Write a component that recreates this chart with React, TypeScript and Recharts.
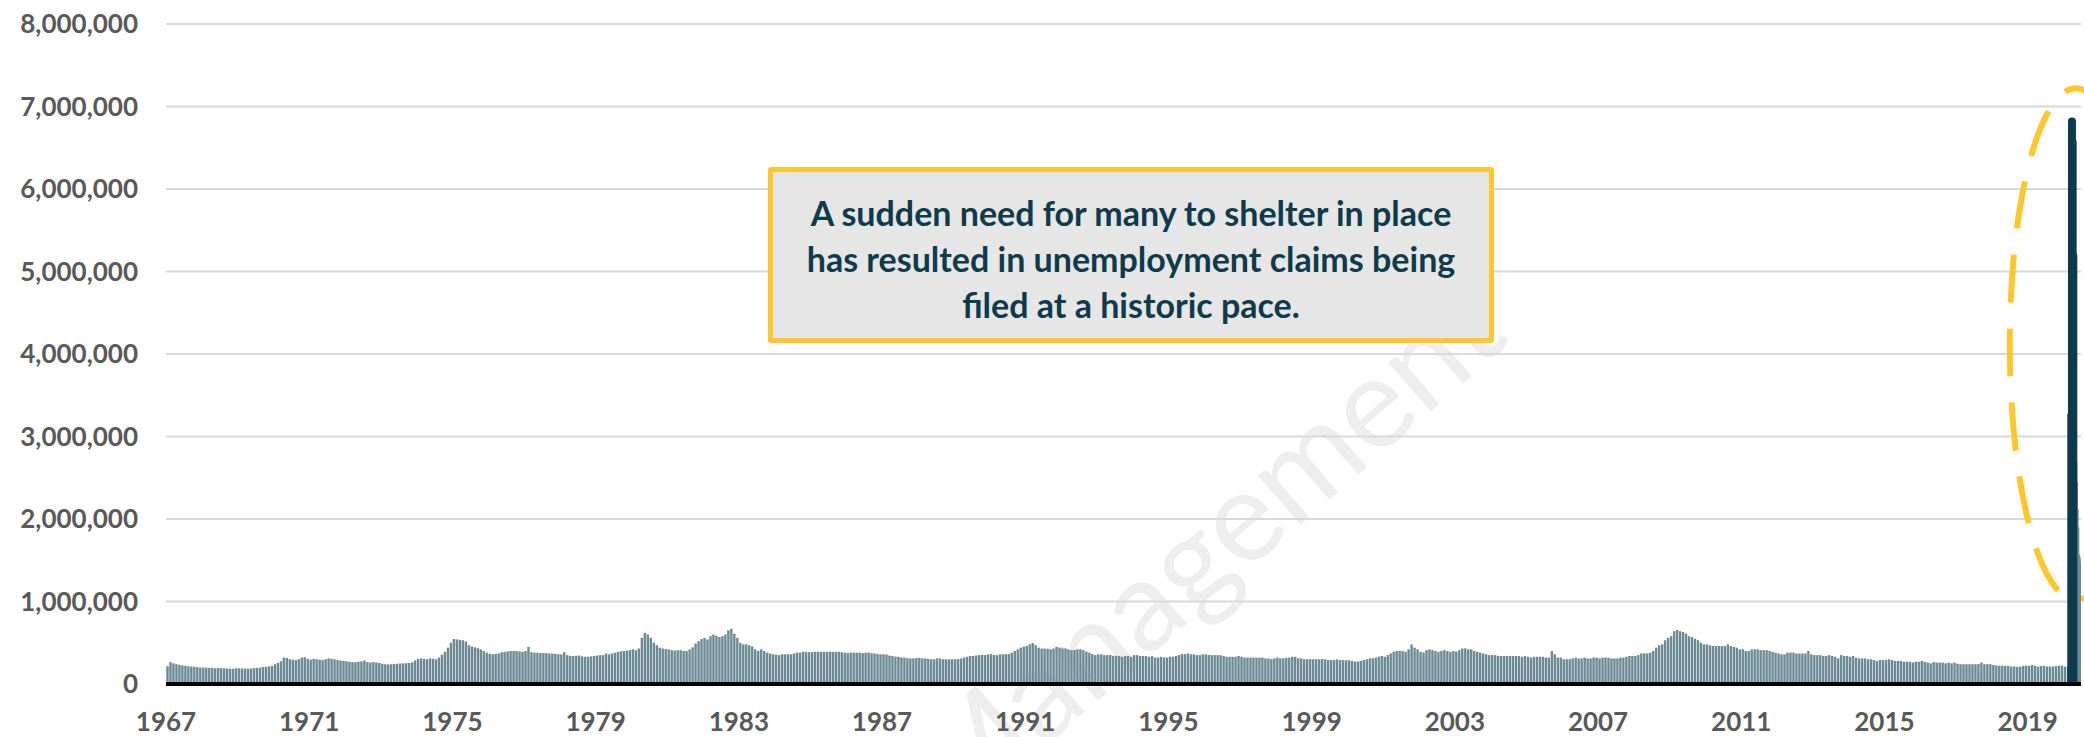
import React from 'react'
import { BarChart, Bar, XAxis, YAxis, CartesianGrid, ReferenceArea } from 'recharts'

// weekly initial claims (thousands), one reading per month up to Feb 2020
const claims1960s = [
  215, 265, 250, 240, 232, 225, 220, 215, 212, 210, 205, 200,
  200, 198, 195, 193, 190, 195, 192, 190, 188, 185, 185, 190,
  190, 188, 186, 185, 188, 192, 195, 198, 205, 208, 212, 218,
]
const claims1970s = [
  240, 255, 275, 320, 315, 300, 295, 290, 300, 320, 325, 305,
  295, 305, 300, 295, 290, 300, 310, 305, 300, 290, 285, 280,
  275, 270, 265, 265, 270, 275, 285, 265, 260, 265, 262, 255,
  245, 240, 238, 240, 242, 245, 248, 250, 252, 255, 262, 285,
  305, 310, 305, 300, 310, 305, 300, 320, 355, 390, 440, 500,
  545, 540, 535, 530, 515, 470, 455, 445, 435, 420, 400, 380,
  365, 360, 365, 370, 385, 390, 395, 400, 400, 400, 395, 390,
  400, 450, 385, 380, 380, 375, 375, 375, 370, 368, 365, 360,
  360, 385, 350, 340, 340, 342, 345, 335, 330, 330, 335, 340,
  345, 350, 350, 370, 360, 370, 380, 390, 395, 400, 405, 410,
]
const claims1980s = [
  420, 410, 430, 560, 620, 600, 560, 500, 470, 440, 430, 425,
  420, 410, 405, 410, 410, 400, 400, 420, 445, 490, 520, 545,
  560, 540, 580, 600, 585, 570, 580, 600, 650, 670, 610, 560,
  500, 480, 480, 470, 455, 420, 400, 420, 400, 380, 370, 360,
  355, 350, 360, 360, 360, 360, 370, 380, 380, 390, 390, 385,
  385, 390, 390, 390, 390, 390, 392, 390, 390, 392, 385, 380,
  375, 380, 380, 380, 380, 375, 380, 380, 372, 370, 362, 360,
  360, 358, 345, 340, 332, 330, 322, 320, 312, 310, 310, 315,
  315, 310, 310, 305, 300, 300, 310, 310, 300, 300, 298, 300,
  300, 302, 310, 320, 330, 340, 340, 345, 350, 352, 350, 358,
]
const claims1990s = [
  362, 352, 350, 358, 360, 362, 362, 380, 400, 420, 440, 452,
  462, 480, 495, 470, 440, 430, 430, 428, 420, 430, 450, 440,
  430, 430, 420, 410, 412, 420, 422, 410, 392, 380, 362, 350,
  360, 360, 350, 350, 352, 342, 340, 340, 330, 340, 340, 330,
  350, 350, 340, 340, 340, 330, 340, 322, 320, 330, 322, 320,
  330, 330, 340, 350, 362, 362, 370, 360, 360, 350, 350, 360,
  360, 352, 350, 350, 350, 350, 340, 330, 330, 330, 330, 340,
  330, 320, 320, 320, 320, 320, 320, 320, 310, 310, 302, 310,
  320, 312, 310, 318, 320, 330, 330, 312, 310, 300, 300, 300,
  300, 300, 300, 302, 300, 292, 290, 290, 298, 290, 290, 288,
]
const claims2000s = [
  288, 280, 272, 272, 280, 290, 300, 310, 312, 320, 330, 340,
  330, 350, 370, 390, 400, 402, 400, 390, 420, 480, 440, 420,
  390, 382, 410, 420, 410, 400, 390, 400, 410, 400, 390, 400,
  392, 410, 430, 432, 420, 420, 400, 390, 380, 370, 360, 350,
  350, 350, 340, 340, 340, 340, 340, 340, 340, 338, 330, 340,
  330, 320, 330, 330, 330, 330, 320, 320, 400, 360, 320, 320,
  300, 300, 300, 310, 320, 310, 310, 320, 310, 310, 320, 320,
  310, 320, 320, 320, 310, 310, 310, 320, 320, 330, 340, 340,
  340, 350, 370, 372, 370, 380, 400, 440, 470, 480, 530, 560,
  580, 640, 655, 640, 630, 610, 580, 570, 550, 530, 500, 480,
]
const claims2010s = [
  480, 470, 460, 460, 460, 460, 460, 480, 460, 450, 440, 420,
  420, 400, 400, 420, 420, 420, 410, 410, 410, 400, 390, 380,
  370, 360, 360, 380, 380, 380, 370, 370, 370, 370, 400, 360,
  350, 350, 350, 340, 340, 350, 340, 330, 310, 350, 340, 340,
  330, 340, 320, 310, 310, 310, 300, 300, 290, 280, 290, 290,
  290, 300, 290, 280, 280, 280, 270, 270, 270, 260, 270, 270,
  280, 270, 260, 250, 265, 260, 260, 260, 250, 258, 250, 260,
  245, 240, 240, 240, 240, 240, 240, 240, 260, 240, 240, 240,
  230, 225, 220, 222, 220, 220, 212, 212, 208, 210, 220, 222,
  220, 230, 220, 210, 218, 220, 212, 212, 212, 218, 222, 222,
]
const claims2020 = [212, 212]

// spring 2020, week by week (thousands)
const weekEnding = [
  '2020-03-07', '2020-03-14', '2020-03-21', '2020-03-28', '2020-04-04', '2020-04-11',
  '2020-04-18', '2020-04-25', '2020-05-02', '2020-05-09', '2020-05-16', '2020-05-23',
  '2020-05-30', '2020-06-06', '2020-06-13', '2020-06-20', '2020-06-27',
]
const weeklyClaims = [217, 282, 3307, 6867, 6615, 5237, 4442, 3867, 3176, 2687, 2446, 2123, 1897, 1566, 1540, 1482, 1427]
const highlighted = [false, false, true, true, true, true, false, false, false, false, false, false, false, false, false, false, false]

const yearTicks = [1967, 1971, 1975, 1979, 1983, 1987, 1991, 1995, 1999, 2003, 2007, 2011, 2015, 2019]
const claimTicks = [0, 1000000, 2000000, 3000000, 4000000, 5000000, 6000000, 7000000, 8000000]

const note = [
  'A sudden need for many to shelter in place',
  'has resulted in unemployment claims being',
  'filed at a historic pace.',
]

const LIGHT = '#6b8a93'
const DARK = '#0d3b4b'
const GOLD = '#fec72e'

const toYear = (s: string) => {
  const [y, m, d] = s.split('-').map(Number)
  const start = Date.UTC(y, 0, 1)
  return y + (Date.UTC(y, m - 1, d) - start) / (Date.UTC(y + 1, 0, 1) - start)
}

const monthly = [...claims1960s, ...claims1970s, ...claims1980s, ...claims1990s, ...claims2000s, ...claims2010s, ...claims2020]
const data: { t: number; claims?: number; surge?: number }[] = monthly.map((v, i) => ({
  t: 1967 + (i + 0.5) / 12,
  claims: v * 1000,
}))
weekEnding.forEach((d, i) => {
  const v = weeklyClaims[i] * 1000
  data.push(highlighted[i] ? { t: toYear(d), surge: v } : { t: toYear(d), claims: v })
})

const ThinBar = (p: any) => {
  if (!p.height || p.height <= 0) return <g />
  const cx = p.x + p.width / 2
  return <rect x={cx - 1.2} y={p.y} width={2.4} height={p.height} fill={LIGHT} />
}

const FatBar = (p: any) => {
  if (!p.height || p.height <= 0) return <g />
  const cx = p.x + p.width / 2
  const r = 4
  const l = cx - r
  const rr = cx + r
  const b = p.y + p.height
  return (
    <path
      d={`M${l},${b} L${l},${p.y + r} A${r},${r} 0 0 1 ${rr},${p.y + r} L${rr},${b} Z`}
      fill={DARK}
    />
  )
}

const Ring = (p: any) => (
  <ellipse
    cx={p.x + p.width / 2}
    cy={p.y + p.height / 2}
    rx={Math.abs(p.width) / 2}
    ry={Math.abs(p.height) / 2}
    fill="none"
    stroke={GOLD}
    strokeWidth={6}
    strokeDasharray="48 26"
  />
)

const tickStyle = { fill: '#595959', fontSize: 26, fontWeight: 700, fontFamily: 'Lato' }

export default function App() {
  return (
    <div style={{ position: 'absolute', left: 0, top: 0, width: 2084, height: 737, overflow: 'hidden', background: '#fff' }}>
      <svg width={2084} height={737} style={{ position: 'absolute', left: 0, top: 0 }}>
        <text
          x={955}
          y={825}
          transform="rotate(-41 955 825)"
          fill="#eeeeee"
          fontFamily="Lato"
          fontSize={128}
        >
          Management
        </text>
      </svg>
      <div style={{ position: 'absolute', left: 0, top: 0 }}>
        <BarChart width={2084} height={737} data={data} margin={{ top: 24, right: 3, bottom: 0, left: 0 }}>
          <CartesianGrid vertical={false} stroke="#d9d9d9" strokeWidth={2} />
          <YAxis
            type="number"
            domain={[0, 8000000]}
            ticks={claimTicks}
            interval={0}
            width={166}
            axisLine={false}
            tickLine={false}
            tickSize={0}
            tickMargin={28}
            tick={tickStyle}
            tickFormatter={(v: number) => v.toLocaleString('en-US')}
          />
          <Bar dataKey="claims" stackId="c" shape={ThinBar} isAnimationActive={false} />
          <Bar dataKey="surge" stackId="c" shape={FatBar} isAnimationActive={false} />
          <ReferenceArea
            x1={2018.5}
            x2={2022.2}
            y1={1020000}
            y2={7220000}
            ifOverflow="visible"
            shape={Ring}
          />
          <XAxis
            type="number"
            dataKey="t"
            domain={[1967, 2020.49]}
            allowDataOverflow
            ticks={yearTicks}
            interval={0}
            height={53}
            axisLine={{ stroke: '#000', strokeWidth: 4 }}
            tickLine={false}
            tickSize={0}
            tickMargin={29}
            tick={tickStyle}
          />
        </BarChart>
      </div>
      <div
        style={{
          position: 'absolute',
          left: 768,
          top: 167,
          width: 726,
          height: 176,
          boxSizing: 'border-box',
          border: `5px solid ${GOLD}`,
          borderRadius: 3,
          background: '#e6e6e6',
          paddingTop: 18,
          textAlign: 'center',
          fontFamily: 'Lato',
          fontWeight: 700,
          fontSize: 34,
          lineHeight: '46px',
          color: DARK,
          whiteSpace: 'nowrap',
        }}
      >
        {note.map(line => (
          <div key={line}>{line}</div>
        ))}
      </div>
    </div>
  )
}
